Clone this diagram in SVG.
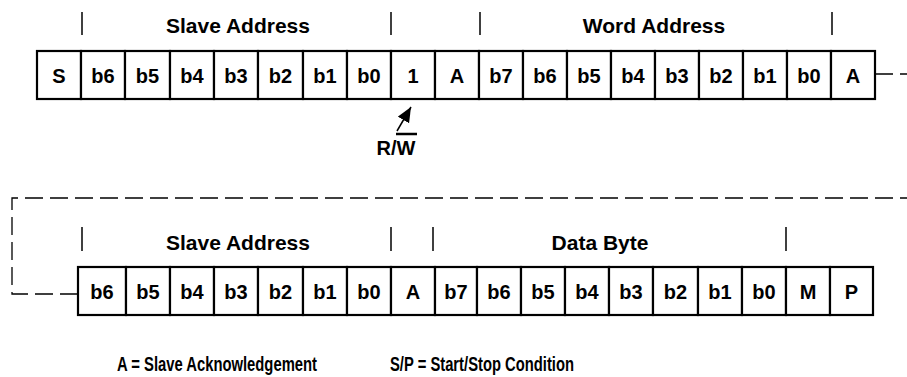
<svg xmlns="http://www.w3.org/2000/svg" width="907" height="377" viewBox="0 0 907 377">
<style>
  text { font-family: "Liberation Sans", Arial, sans-serif; font-weight: bold; fill: #000; }
  .cell rect { fill: #fff; stroke: #000; stroke-width: 2.2; }
  .cell text { font-size: 20px; text-anchor: middle; }
  .hdr { font-size: 21px; text-anchor: middle; }
  .tick { stroke: #000; stroke-width: 1.5; }
  .dash { fill: none; stroke: #000; stroke-width: 1.3; stroke-dasharray: 18 7; }
  .legend { font-size: 20px; }
</style>
<defs>
  <marker id="ah" markerUnits="userSpaceOnUse" markerWidth="16" markerHeight="14" refX="15" refY="7" orient="auto">
    <path d="M0,0.5 L15,7 L0,13.5 z" fill="#000"/>
  </marker>
</defs>
<rect width="907" height="377" fill="#fff"/>

<!-- header ticks and labels -->
<g id="headers">
  <line class="tick" x1="82" y1="12" x2="82" y2="35"/>
  <line class="tick" x1="391" y1="12" x2="391" y2="35"/>
  <line class="tick" x1="480" y1="12" x2="480" y2="35"/>
  <line class="tick" x1="832" y1="12" x2="832" y2="35"/>
  <text class="hdr" x="238" y="33">Slave Address</text>
  <text class="hdr" x="654" y="33">Word Address</text>
  <line class="tick" x1="82" y1="227" x2="82" y2="251"/>
  <line class="tick" x1="391" y1="227" x2="391" y2="251"/>
  <line class="tick" x1="433" y1="227" x2="433" y2="251"/>
  <line class="tick" x1="786" y1="227" x2="786" y2="251"/>
  <text class="hdr" x="238" y="250">Slave Address</text>
  <text class="hdr" x="600" y="250">Data Byte</text>
</g>

<!-- top row -->
<g id="row1">
  <g id="t0" class="cell"><rect x="37" y="51" width="44" height="48"/><text x="59" y="82.5">S</text></g>
  <g id="t1" class="cell"><rect x="81" y="51" width="44" height="48"/><text x="103" y="82.5">b6</text></g>
  <g id="t2" class="cell"><rect x="125" y="51" width="45" height="48"/><text x="147.5" y="82.5">b5</text></g>
  <g id="t3" class="cell"><rect x="170" y="51" width="44" height="48"/><text x="192" y="82.5">b4</text></g>
  <g id="t4" class="cell"><rect x="214" y="51" width="44" height="48"/><text x="236" y="82.5">b3</text></g>
  <g id="t5" class="cell"><rect x="258" y="51" width="45" height="48"/><text x="280.5" y="82.5">b2</text></g>
  <g id="t6" class="cell"><rect x="303" y="51" width="44" height="48"/><text x="325" y="82.5">b1</text></g>
  <g id="t7" class="cell"><rect x="347" y="51" width="44" height="48"/><text x="369" y="82.5">b0</text></g>
  <g id="t8" class="cell"><rect x="391" y="51" width="44" height="48"/><text x="413" y="82.5">1</text></g>
  <g id="t9" class="cell"><rect x="435" y="51" width="44" height="48"/><text x="457" y="82.5">A</text></g>
  <g id="t10" class="cell"><rect x="479" y="51" width="44" height="48"/><text x="501" y="82.5">b7</text></g>
  <g id="t11" class="cell"><rect x="523" y="51" width="44" height="48"/><text x="545" y="82.5">b6</text></g>
  <g id="t12" class="cell"><rect x="567" y="51" width="44" height="48"/><text x="589" y="82.5">b5</text></g>
  <g id="t13" class="cell"><rect x="611" y="51" width="44" height="48"/><text x="633" y="82.5">b4</text></g>
  <g id="t14" class="cell"><rect x="655" y="51" width="44" height="48"/><text x="677" y="82.5">b3</text></g>
  <g id="t15" class="cell"><rect x="699" y="51" width="44" height="48"/><text x="721" y="82.5">b2</text></g>
  <g id="t16" class="cell"><rect x="743" y="51" width="44" height="48"/><text x="765" y="82.5">b1</text></g>
  <g id="t17" class="cell"><rect x="787" y="51" width="44" height="48"/><text x="809" y="82.5">b0</text></g>
  <g id="t18" class="cell"><rect x="831" y="51" width="44" height="48"/><text x="853" y="82.5">A</text></g>
</g>

<!-- bottom row -->
<g id="row2">
  <g id="m0" class="cell"><rect x="78" y="267" width="48" height="48"/><text x="102" y="298.5">b6</text></g>
  <g id="m1" class="cell"><rect x="126" y="267" width="44" height="48"/><text x="148" y="298.5">b5</text></g>
  <g id="m2" class="cell"><rect x="170" y="267" width="44" height="48"/><text x="192" y="298.5">b4</text></g>
  <g id="m3" class="cell"><rect x="214" y="267" width="44" height="48"/><text x="236" y="298.5">b3</text></g>
  <g id="m4" class="cell"><rect x="258" y="267" width="45" height="48"/><text x="280.5" y="298.5">b2</text></g>
  <g id="m5" class="cell"><rect x="303" y="267" width="44" height="48"/><text x="325" y="298.5">b1</text></g>
  <g id="m6" class="cell"><rect x="347" y="267" width="44" height="48"/><text x="369" y="298.5">b0</text></g>
  <g id="m7" class="cell"><rect x="391" y="267" width="44" height="48"/><text x="413" y="298.5">A</text></g>
  <g id="m8" class="cell"><rect x="435" y="267" width="42" height="48"/><text x="456" y="298.5">b7</text></g>
  <g id="m9" class="cell"><rect x="477" y="267" width="44" height="48"/><text x="499" y="298.5">b6</text></g>
  <g id="m10" class="cell"><rect x="521" y="267" width="44" height="48"/><text x="543" y="298.5">b5</text></g>
  <g id="m11" class="cell"><rect x="565" y="267" width="44" height="48"/><text x="587" y="298.5">b4</text></g>
  <g id="m12" class="cell"><rect x="609" y="267" width="44" height="48"/><text x="631" y="298.5">b3</text></g>
  <g id="m13" class="cell"><rect x="653" y="267" width="45" height="48"/><text x="675.5" y="298.5">b2</text></g>
  <g id="m14" class="cell"><rect x="698" y="267" width="44" height="48"/><text x="720" y="298.5">b1</text></g>
  <g id="m15" class="cell"><rect x="742" y="267" width="44" height="48"/><text x="764" y="298.5">b0</text></g>
  <g id="m16" class="cell"><rect x="786" y="267" width="44" height="48"/><text x="808" y="298.5">M</text></g>
  <g id="m17" class="cell"><rect x="830" y="267" width="43" height="48"/><text x="851.5" y="298.5">P</text></g>
</g>

<!-- R/W indicator -->
<g id="rw">
  <text x="396" y="155" style="font-size:20px;text-anchor:middle">R/W</text>
  <line x1="396" y1="134" x2="417" y2="134" stroke="#000" stroke-width="2.5"/>
</g>

<!-- connectors -->
<g id="connectors">
  <line x1="397" y1="131" x2="411" y2="107" stroke="#000" stroke-width="1.5" marker-end="url(#ah)"/>
  <path class="dash" d="M875,74 H907"/>
  <path class="dash" d="M78,294 H12 V198 H907"/>
</g>

<!-- legend -->
<g id="legend">
  <text class="legend" x="117" y="371" textLength="200" lengthAdjust="spacingAndGlyphs">A = Slave Acknowledgement</text>
  <text class="legend" x="390" y="371" textLength="184" lengthAdjust="spacingAndGlyphs">S/P = Start/Stop Condition</text>
</g>
</svg>
